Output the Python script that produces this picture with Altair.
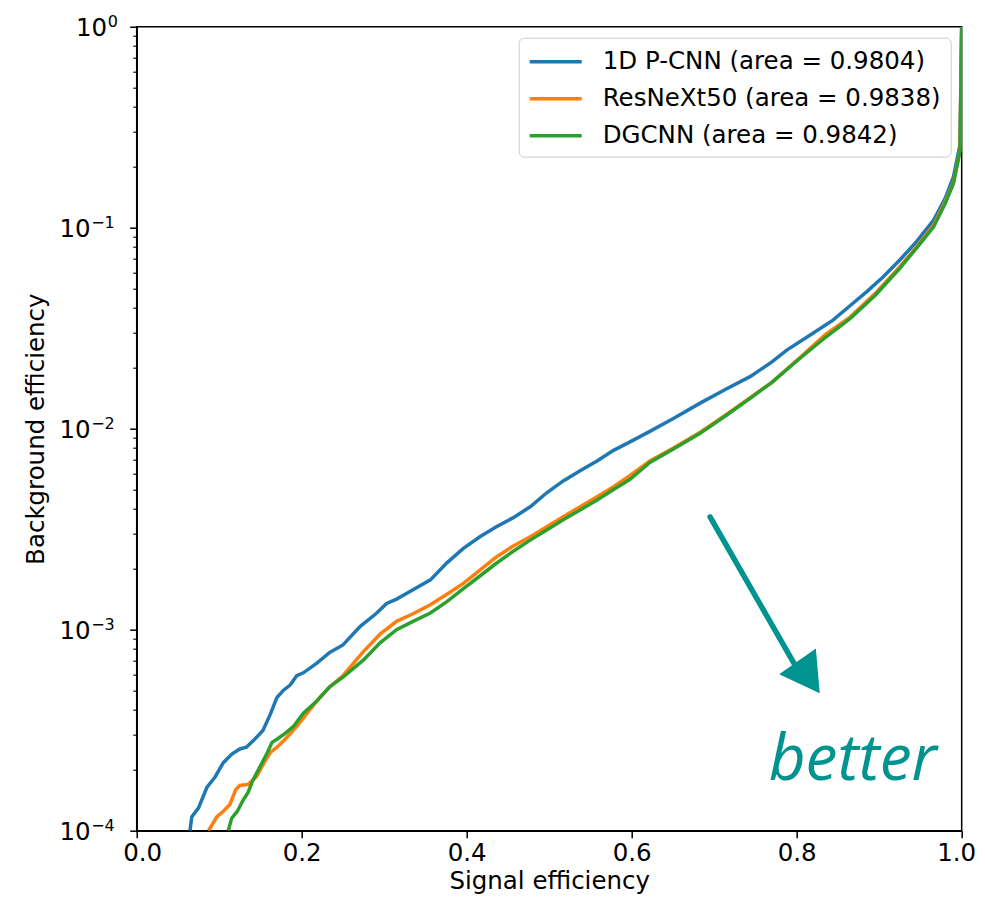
import altair as alt
import pandas as pd

# ---- data ----
series_names = ["1D P-CNN (area = 0.9804)", "ResNeXt50 (area = 0.9838)", "DGCNN (area = 0.9842)"]
series_colors = ["#1f77b4", "#ff7f0e", "#2ca02c"]

pcnn_x = [0.0646, 0.0667, 0.075, 0.085, 0.095, 0.105, 0.115, 0.125, 0.133, 0.143, 0.153, 0.162,
          0.170, 0.178, 0.186, 0.194, 0.202, 0.218, 0.234, 0.25, 0.271, 0.29, 0.303, 0.315, 0.335,
          0.356, 0.376, 0.396, 0.416, 0.436, 0.456, 0.477, 0.497, 0.517, 0.538, 0.558, 0.578, 0.598,
          0.622, 0.65, 0.683, 0.714, 0.744, 0.77, 0.788, 0.815, 0.844, 0.865, 0.885, 0.905, 0.925,
          0.945, 0.966, 0.98, 0.99, 0.998, 1.0]
pcnn_y = [1.0e-4, 1.17e-4, 1.3e-4, 1.64e-4, 1.85e-4, 2.18e-4, 2.4e-4, 2.55e-4, 2.6e-4, 2.85e-4,
          3.15e-4, 3.8e-4, 4.6e-4, 5.0e-4, 5.3e-4, 5.9e-4, 6.1e-4, 6.8e-4, 7.7e-4, 8.4e-4, 1.04e-3,
          1.2e-3, 1.35e-3, 1.42e-3, 1.58e-3, 1.77e-3, 2.15e-3, 2.54e-3, 2.9e-3, 3.25e-3, 3.6e-3,
          4.09e-3, 4.8e-3, 5.5e-3, 6.2e-3, 6.9e-3, 7.8e-3, 8.6e-3, 9.7e-3, 1.12e-2, 1.34e-2, 1.57e-2,
          1.82e-2, 2.15e-2, 2.46e-2, 2.9e-2, 3.47e-2, 4.1e-2, 4.81e-2, 5.7e-2, 6.91e-2, 8.5e-2, 0.109,
          0.14, 0.179, 0.26, 1.0]

resnext_x = [0.087, 0.097, 0.105, 0.113, 0.12, 0.125, 0.135, 0.145, 0.155, 0.162, 0.170, 0.18,
             0.194, 0.21, 0.222, 0.234, 0.25, 0.275, 0.295, 0.315, 0.335, 0.356, 0.376, 0.396,
             0.416, 0.436, 0.456, 0.477, 0.497, 0.517, 0.538, 0.558, 0.578, 0.598, 0.622, 0.65,
             0.683, 0.714, 0.744, 0.77, 0.804, 0.835, 0.865, 0.895, 0.925, 0.945, 0.966, 0.98,
             0.99, 0.998, 1.0]
resnext_y = [1.0e-4, 1.17e-4, 1.25e-4, 1.35e-4, 1.6e-4, 1.68e-4, 1.7e-4, 1.85e-4, 2.2e-4, 2.45e-4,
             2.6e-4, 2.85e-4, 3.3e-4, 4.0e-4, 4.6e-4, 5.2e-4, 5.9e-4, 7.8e-4, 9.5e-4, 1.1e-3,
             1.2e-3, 1.33e-3, 1.5e-3, 1.7e-3, 1.98e-3, 2.3e-3, 2.6e-3, 2.9e-3, 3.25e-3, 3.65e-3,
             4.1e-3, 4.59e-3, 5.15e-3, 5.85e-3, 6.9e-3, 8.0e-3, 9.6e-3, 1.17e-2, 1.43e-2, 1.7e-2,
             2.26e-2, 2.95e-2, 3.6e-2, 4.7e-2, 6.4e-2, 8.0e-2, 0.103, 0.135, 0.168, 0.245, 1.0]

dgcnn_x = [0.111, 0.115, 0.122, 0.129, 0.135, 0.141, 0.15, 0.158, 0.164, 0.170, 0.18, 0.19, 0.202,
           0.218, 0.234, 0.25, 0.275, 0.295, 0.315, 0.335, 0.356, 0.376, 0.396, 0.416, 0.436, 0.456,
           0.477, 0.497, 0.517, 0.538, 0.558, 0.578, 0.598, 0.622, 0.65, 0.683, 0.714, 0.744, 0.77,
           0.804, 0.835, 0.865, 0.895, 0.925, 0.945, 0.966, 0.98, 0.99, 0.998, 1.0]
dgcnn_y = [1.0e-4, 1.15e-4, 1.25e-4, 1.42e-4, 1.55e-4, 1.79e-4, 2.1e-4, 2.43e-4, 2.75e-4, 2.85e-4,
           3.05e-4, 3.3e-4, 3.84e-4, 4.4e-4, 5.2e-4, 5.8e-4, 7.07e-4, 8.6e-4, 1.0e-3, 1.1e-3,
           1.21e-3, 1.38e-3, 1.6e-3, 1.85e-3, 2.14e-3, 2.45e-3, 2.79e-3, 3.13e-3, 3.52e-3, 3.95e-3,
           4.42e-3, 4.98e-3, 5.6e-3, 6.8e-3, 7.9e-3, 9.48e-3, 1.16e-2, 1.42e-2, 1.7e-2, 2.24e-2,
           2.85e-2, 3.54e-2, 4.6e-2, 6.28e-2, 7.9e-2, 0.101, 0.132, 0.166, 0.24, 1.0]

x_ticks = [0.0, 0.2, 0.4, 0.6, 0.8, 1.0]
y_decades = [1e-4, 1e-3, 1e-2, 1e-1, 1.0]
y_minor_mult = [2, 3, 4, 5, 6, 7, 8, 9]
y_label_base = ["10", "10", "10", "10", "10"]
y_label_sup = ["\u22124", "\u22123", "\u22122", "\u22121", "0"]

# annotation ("better" arrow) in data coordinates
arrow_x = [0.695, 0.798]
arrow_y = [3.64e-3, 6.67e-4]
head_x = [0.810]
head_y = [6.16e-4]
note_x = [0.766]
note_y = [1.787e-4]
note_text = ["better"]
teal = "#00938f"

# ---- build tables ----
rows = []
for name, xs, ys in zip(series_names, [pcnn_x, resnext_x, dgcnn_x], [pcnn_y, resnext_y, dgcnn_y]):
    for xv, yv in zip(xs, ys):
        rows.append({"model": name, "x": xv, "y": yv})
df = pd.DataFrame(rows)

y_values = sorted(y_decades + [m * d for d in y_decades[:-1] for m in y_minor_mult])
lab_df = pd.DataFrame({"y": y_decades, "base": y_label_base, "sup": y_label_sup})

is_decade = "abs(log(datum.value)/LN10 - round(log(datum.value)/LN10)) < 0.001"

FONT = "DejaVu Sans"
FS = 24.5

xscale = alt.Scale(domain=[0, 1], nice=False)
yscale = alt.Scale(type="log", domain=[1e-4, 1], nice=False)

xenc = alt.X("x:Q", scale=xscale, title="Signal efficiency",
             axis=alt.Axis(values=x_ticks, format=".1f", grid=False, tickSize=7, tickWidth=1.5,
                           labelPadding=4, titlePadding=4, labelFlush=True, labelFlushOffset=14))
yenc = alt.Y("y:Q", scale=yscale, title="Background efficiency",
             axis=alt.Axis(values=y_values, labels=False, grid=False,
                           tickSize={"condition": {"test": is_decade, "value": 7}, "value": 4},
                           tickWidth={"condition": {"test": is_decade, "value": 1.5}, "value": 1.1},
                           titlePadding=80))

color = alt.Color("model:N", scale=alt.Scale(domain=series_names, range=series_colors),
                  sort=series_names,
                  legend=alt.Legend(title=None, orient="none", legendX=382, legendY=11,
                                    symbolType="M-1,0H3", symbolStrokeWidth=3.5, symbolSize=676,
                                    symbolFillColor="transparent",
                                    labelFontSize=FS, labelFont=FONT, labelColor="black",
                                    labelOffset=45, rowPadding=10, padding=9,
                                    strokeColor="#cccccc", fillColor="rgba(255,255,255,0.8)",
                                    cornerRadius=5, labelLimit=500))

layers = []
for name in series_names:
    layers.append(
        alt.Chart(df).transform_filter(alt.datum.model == name)
        .mark_line(strokeWidth=3.5, clip=True)
        .encode(x=xenc, y=yenc, color=color, order=alt.Order("x:Q"))
    )

# y tick labels as 10 with a superscript exponent
ylab_neg_base = alt.Chart(lab_df).transform_filter(alt.datum.sup != "0").mark_text(
    font=FONT, fontSize=FS, align="right", baseline="alphabetic", dy=9, color="black").encode(
    x=alt.value(-46), y=alt.Y("y:Q", scale=yscale), text="base:N")
ylab_neg_sup = alt.Chart(lab_df).transform_filter(alt.datum.sup != "0").mark_text(
    font=FONT, fontSize=16, align="left", baseline="alphabetic", dy=0.5, color="black").encode(
    x=alt.value(-45.5), y=alt.Y("y:Q", scale=yscale), text="sup:N")
ylab_zero_base = alt.Chart(lab_df).transform_filter(alt.datum.sup == "0").mark_text(
    font=FONT, fontSize=FS, align="right", baseline="alphabetic", dy=9, color="black").encode(
    x=alt.value(-29.5), y=alt.Y("y:Q", scale=yscale), text="base:N")
ylab_zero_sup = alt.Chart(lab_df).transform_filter(alt.datum.sup == "0").mark_text(
    font=FONT, fontSize=16, align="left", baseline="alphabetic", dy=0.5, color="black").encode(
    x=alt.value(-29), y=alt.Y("y:Q", scale=yscale), text="sup:N")

arrow_df = pd.DataFrame({"x": [arrow_x[0]], "y": [arrow_y[0]], "x2": [arrow_x[1]], "y2": [arrow_y[1]]})
shaft = alt.Chart(arrow_df).mark_rule(color=teal, strokeWidth=5.5, strokeCap="round").encode(
    x=alt.X("x:Q", scale=xscale), y=alt.Y("y:Q", scale=yscale), x2="x2:Q", y2="y2:Q")

head = alt.Chart(pd.DataFrame({"x": head_x, "y": head_y})).mark_point(
    shape="triangle", filled=True, color=teal, opacity=1, size=2000, angle=145).encode(
    x=alt.X("x:Q", scale=xscale), y=alt.Y("y:Q", scale=yscale))

note = alt.Chart(pd.DataFrame({"x": note_x, "y": note_y, "t": note_text})).mark_text(
    font="Open Sans", fontStyle="italic", fontSize=64, color=teal, align="left",
    baseline="alphabetic").encode(
    x=alt.X("x:Q", scale=xscale), y=alt.Y("y:Q", scale=yscale), text="t:N")

chart = alt.layer(*layers, ylab_neg_base, ylab_neg_sup, ylab_zero_base, ylab_zero_sup,
                  shaft, head, note).properties(
    width=825, height=804,
    padding={"left": 128.7, "top": 18.7, "right": 14.5, "bottom": 65},
    autosize="none",
).configure_view(stroke="black", strokeWidth=1.5).configure_axis(
    labelFont=FONT, titleFont=FONT, labelFontSize=FS, titleFontSize=FS,
    labelColor="black", titleColor="black", titleFontWeight="normal",
    domainColor="black", domainWidth=1.5, tickColor="black",
)

chart.save("out.html", embed_options={"renderer": "svg", "actions": False})
